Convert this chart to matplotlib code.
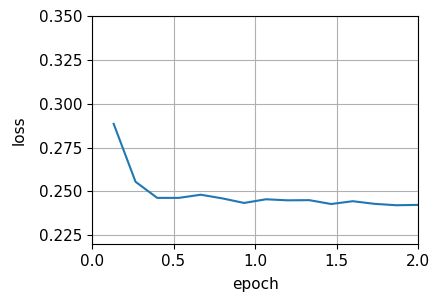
import matplotlib
matplotlib.use("Agg")
import matplotlib.pyplot as plt

epochs = [0.133, 0.267, 0.4, 0.533, 0.667, 0.8, 0.933, 1.067, 1.2, 1.333,
          1.467, 1.6, 1.733, 1.867, 2.0]
loss = [0.2885, 0.2555, 0.2463, 0.2463, 0.2481, 0.2460, 0.2434, 0.2455, 0.2449,
        0.2450, 0.2428, 0.2444, 0.2429, 0.2421, 0.2423]

fig = plt.figure(figsize=(4.4, 3.06), dpi=100)
ax = fig.add_axes([92/440, 1 - 244/306, 326/440, 228/306])
ax.plot(epochs, loss, color="#1f77b4", linewidth=1.5)
ax.set_xlim(0, 2.0)
ax.set_ylim(0.22, 0.35)
ax.set_yticks([0.225, 0.25, 0.275, 0.3, 0.325, 0.35])
ax.set_xlabel("epoch", fontsize=11, labelpad=6)
ax.set_ylabel("loss", fontsize=11, labelpad=9)
ax.tick_params(labelsize=11)
ax.grid(True, color="#b0b0b0", linewidth=0.8)
fig.savefig("out.png", dpi=100)
